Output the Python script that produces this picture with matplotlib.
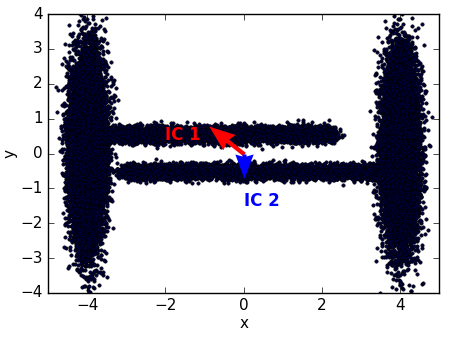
import numpy as np
import matplotlib
matplotlib.use('Agg')
import matplotlib.pyplot as plt

# point clouds, described by what can be read off the picture
# (centre x, centre y, spread in x, spread in y, number of points)
blob_x = [-4.0, 4.0]
blob_y = [0.15, 0.1]
blob_sx = [0.21, 0.21]
blob_sy = [1.2, 1.2]
blob_n = [18000, 18000]

# horizontal bands: start, end, soft edge, centre y, spread in y, points
band_x0 = [-3.5, -3.0]
band_x1 = [2.2, 3.6]
band_edge = [0.15, 0.2]
band_y = [0.55, -0.52]
band_sy = [0.11, 0.1]
band_n = [7000, 7000]

# independent component directions
ic_labels = ['IC 1', 'IC 2']
ic_dx = [-0.9, 0.0]
ic_dy = [0.8, -0.7]
ic_colors = ['r', 'b']
ic_text_x = [-2.0, 0.0]
ic_text_y = [0.52, -1.35]

rng = np.random.RandomState(0)
xs, ys = [], []
for cx, cy, sx, sy, n in zip(blob_x, blob_y, blob_sx, blob_sy, blob_n):
    xs.append(rng.normal(cx, sx, n))
    ys.append(rng.normal(cy, sy, n))
for x0, x1, e, cy, sy, n in zip(band_x0, band_x1, band_edge, band_y, band_sy, band_n):
    xs.append(rng.uniform(x0, x1, n) + rng.normal(0, e, n))
    ys.append(rng.normal(cy, sy, n))
x = np.concatenate(xs)
y = np.concatenate(ys)

plt.style.use('classic')
plt.rcParams['figure.facecolor'] = 'white'

fig = plt.figure(figsize=(4.49, 3.37), dpi=100)
ax = fig.add_axes([0.107, 0.131, 0.871, 0.827])

ax.scatter(x, y, s=6, c='#000040', edgecolors='k', linewidths=0.4)

for dx, dy, col, lab, tx, ty in zip(ic_dx, ic_dy, ic_colors, ic_labels, ic_text_x, ic_text_y):
    ax.quiver(0, 0, dx, dy, color=col, angles='xy', scale_units='xy', scale=1,
              width=0.011, headwidth=4.5, headlength=6, headaxislength=5.5, zorder=3)
    ax.text(tx, ty, lab, color=col, fontsize=12, fontweight='bold', va='center')

ax.set_xlim(-5, 5)
ax.set_ylim(-4, 4)
ax.set_xlabel('x', fontsize=11, labelpad=2)
ax.set_ylabel('y', fontsize=11, labelpad=2)
ax.tick_params(labelsize=11)

plt.savefig('out.png', dpi=100)
